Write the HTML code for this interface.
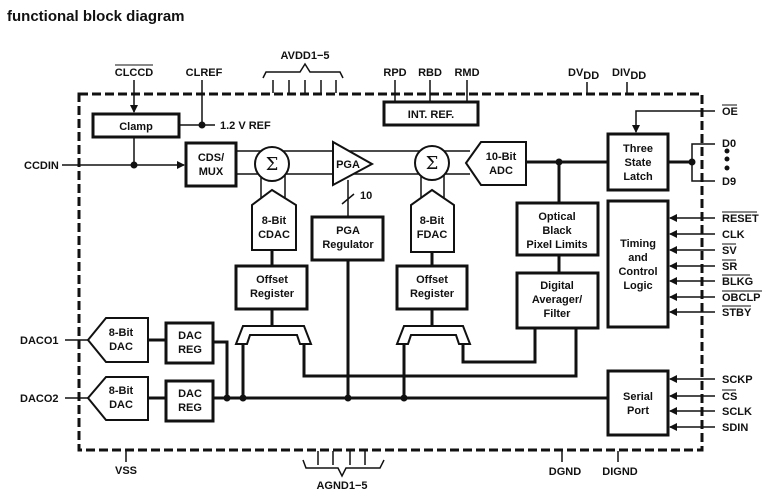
<!DOCTYPE html>
<html><head><meta charset="utf-8"><style>
html,body{margin:0;padding:0;background:#fff}
svg{display:block}
text{font-family:"Liberation Sans",Arial,sans-serif;font-weight:bold;font-size:11px;fill:#111}
</style></head><body>
<svg width="773" height="497" viewBox="0 0 773 497" xmlns="http://www.w3.org/2000/svg">
<defs>
<marker id="ar" markerWidth="8" markerHeight="8" refX="7" refY="4" orient="auto" markerUnits="userSpaceOnUse">
<path d="M0,0 L8,4 L0,8 z" fill="#111"/></marker>
</defs>
<text x="7" y="21" style="font-size:15px">functional block diagram</text>

<!-- border -->
<rect x="79" y="94" width="623" height="356" fill="none" stroke="#111" stroke-width="3" stroke-dasharray="9,4"/>

<g stroke="#111" stroke-width="1.5" fill="none">
<!-- top pins -->
<line x1="134" y1="80" x2="134" y2="112" marker-end="url(#ar)"/>
<line x1="202" y1="80" x2="202" y2="125"/>
<line x1="179" y1="125" x2="215" y2="125"/>
<path d="M263,78 L266,72 L300,72 L305,64 L310,72 L340,72 L343,78"/>
<line x1="273" y1="80" x2="273" y2="93"/><line x1="289" y1="80" x2="289" y2="93"/>
<line x1="305" y1="80" x2="305" y2="93"/><line x1="321" y1="80" x2="321" y2="93"/>
<line x1="336" y1="80" x2="336" y2="93"/>
<line x1="395" y1="80" x2="395" y2="102"/><line x1="430" y1="80" x2="430" y2="102"/><line x1="467" y1="80" x2="467" y2="102"/>
<line x1="587" y1="82" x2="587" y2="93"/><line x1="627" y1="82" x2="627" y2="93"/>
<!-- clamp / ccdin -->
<line x1="134" y1="137" x2="134" y2="165"/>
<line x1="62" y1="165" x2="184" y2="165" marker-end="url(#ar)"/>
<!-- analog lines -->
<line x1="236" y1="151" x2="470" y2="151"/>
<line x1="236" y1="174" x2="470" y2="174"/>
<line x1="261" y1="172" x2="261" y2="200"/><line x1="285" y1="172" x2="285" y2="200"/>
<line x1="421" y1="172" x2="421" y2="200"/><line x1="444" y1="172" x2="444" y2="200"/>
<line x1="348" y1="180" x2="348" y2="217"/>
<line x1="342" y1="204" x2="354" y2="194"/>
<!-- OE -->
<path d="M715,111 L636,111 L636,132" marker-end="url(#ar)"/>
<!-- D0-D9 -->
<path d="M715,144 L692,144 L692,181 L715,181"/>
<!-- timing inputs -->
<line x1="715" y1="218" x2="670" y2="218" marker-end="url(#ar)"/>
<line x1="715" y1="234" x2="670" y2="234" marker-end="url(#ar)"/>
<line x1="715" y1="250" x2="670" y2="250" marker-end="url(#ar)"/>
<line x1="715" y1="266" x2="670" y2="266" marker-end="url(#ar)"/>
<line x1="715" y1="281" x2="670" y2="281" marker-end="url(#ar)"/>
<line x1="715" y1="297" x2="670" y2="297" marker-end="url(#ar)"/>
<line x1="715" y1="312" x2="670" y2="312" marker-end="url(#ar)"/>
<line x1="715" y1="379" x2="670" y2="379" marker-end="url(#ar)"/>
<line x1="715" y1="396" x2="670" y2="396" marker-end="url(#ar)"/>
<line x1="715" y1="411" x2="670" y2="411" marker-end="url(#ar)"/>
<line x1="715" y1="427" x2="670" y2="427" marker-end="url(#ar)"/>
<!-- DACO -->
<line x1="65" y1="340" x2="88" y2="340"/><line x1="65" y1="398" x2="88" y2="398"/>
<!-- bottom pins -->
<line x1="126" y1="451" x2="126" y2="462"/>
<line x1="318" y1="451" x2="318" y2="465"/><line x1="333" y1="451" x2="333" y2="465"/>
<line x1="350" y1="451" x2="350" y2="465"/><line x1="365" y1="451" x2="365" y2="465"/>
<path d="M303,460 L306,468 L338,468 L342,476 L346,468 L380,468 L384,460"/>
<line x1="562" y1="451" x2="562" y2="462"/><line x1="618" y1="451" x2="618" y2="462"/>
</g>

<!-- thick wires -->
<g stroke="#111" stroke-width="3" fill="none">
<line x1="526" y1="162" x2="608" y2="162"/>
<line x1="559" y1="162" x2="559" y2="203"/>
<line x1="559" y1="255" x2="559" y2="273"/>
<line x1="668" y1="162" x2="692" y2="162"/>
<line x1="272" y1="250" x2="272" y2="266"/>
<line x1="432" y1="252" x2="432" y2="266"/>
<line x1="272" y1="309" x2="272" y2="326"/>
<line x1="432" y1="309" x2="432" y2="326"/>
<line x1="348" y1="260" x2="348" y2="398"/>
<line x1="148" y1="340" x2="166" y2="340"/>
<line x1="148" y1="398" x2="166" y2="398"/>
<line x1="213" y1="398" x2="608" y2="398"/>
<path d="M213,342 L227,342 L227,398"/>
<line x1="243" y1="344" x2="243" y2="398"/>
<line x1="404" y1="344" x2="404" y2="398"/>
<path d="M304,344 L304,376 L576,376 L576,328"/>
<path d="M463,344 L463,362 L535,362 L535,328"/>
</g>
<g fill="#111">
<circle cx="202" cy="125" r="3.5"/><circle cx="134" cy="165" r="3.5"/>
<circle cx="559" cy="162" r="3.5"/><circle cx="692" cy="162" r="3.5"/>
<circle cx="727" cy="151" r="2.5"/><circle cx="727" cy="159" r="2.5"/><circle cx="727" cy="168" r="2.5"/>
<circle cx="227" cy="398" r="3.5"/><circle cx="243" cy="398" r="3.5"/>
<circle cx="348" cy="398" r="3.5"/><circle cx="404" cy="398" r="3.5"/>
</g>

<!-- boxes -->
<g stroke="#111" stroke-width="3" fill="#fff">
<rect x="93" y="114" width="86" height="23"/>
<rect x="186" y="143" width="50" height="43"/>
<rect x="384" y="102" width="94" height="23"/>
<rect x="608" y="134" width="60" height="56"/>
<rect x="608" y="201" width="60" height="126"/>
<rect x="517" y="203" width="81" height="52"/>
<rect x="517" y="273" width="81" height="55"/>
<rect x="236" y="266" width="71" height="43"/>
<rect x="397" y="266" width="70" height="43"/>
<rect x="312" y="217" width="71" height="43"/>
<rect x="166" y="323" width="47" height="40"/>
<rect x="166" y="381" width="47" height="40"/>
<rect x="608" y="371" width="60" height="64"/>
</g>
<g stroke="#111" stroke-width="2" fill="#fff">
<polygon points="333,142 333,185 372,164"/>
<circle cx="272" cy="164" r="17"/>
<circle cx="432" cy="163" r="17"/>
<polygon points="466,163 481,142 526,142 526,185 481,185"/>
<polygon points="272,190 296,205 296,250 252,250 252,205"/>
<polygon points="432,190 454,205 454,252 411,252 411,205"/>
<polygon points="88,340 106,318 148,318 148,362 106,362"/>
<polygon points="88,398 106,377 148,377 148,420 106,420"/>
<polygon points="243,326 304,326 311,344 300,344 297,335 250,335 247,344 236,344"/>
<polygon points="404,326 463,326 470,344 459,344 456,335 411,335 408,344 397,344"/>
</g>

<g text-anchor="middle">
<text x="136" y="130">Clamp</text>
<text x="211" y="161">CDS/</text><text x="211" y="175">MUX</text>
<text x="272" y="170" style="font-family:'DejaVu Serif',serif;font-weight:normal;font-size:18px">Σ</text>
<text x="432" y="169" style="font-family:'DejaVu Serif',serif;font-weight:normal;font-size:18px">Σ</text>
<text x="348" y="168">PGA</text>
<text x="501" y="160">10-Bit</text><text x="501" y="174">ADC</text>
<text x="431" y="118">INT. REF.</text>
<text x="638" y="152">Three</text><text x="638" y="166">State</text><text x="638" y="180">Latch</text>
<text x="638" y="247">Timing</text><text x="638" y="261">and</text><text x="638" y="275">Control</text><text x="638" y="289">Logic</text>
<text x="557" y="220">Optical</text><text x="557" y="234">Black</text><text x="557" y="248">Pixel Limits</text>
<text x="557" y="289">Digital</text><text x="557" y="303">Averager/</text><text x="557" y="317">Filter</text>
<text x="274" y="224">8-Bit</text><text x="274" y="238">CDAC</text>
<text x="432" y="224">8-Bit</text><text x="432" y="238">FDAC</text>
<text x="348" y="234">PGA</text><text x="348" y="248">Regulator</text>
<text x="272" y="283">Offset</text><text x="272" y="297">Register</text>
<text x="432" y="283">Offset</text><text x="432" y="297">Register</text>
<text x="121" y="336">8-Bit</text><text x="121" y="350">DAC</text>
<text x="121" y="394">8-Bit</text><text x="121" y="408">DAC</text>
<text x="190" y="339">DAC</text><text x="190" y="353">REG</text>
<text x="190" y="397">DAC</text><text x="190" y="411">REG</text>
<text x="638" y="400">Serial</text><text x="638" y="414">Port</text>
<text x="134" y="76">CLCCD</text>
<text x="204" y="76">CLREF</text>
<text x="305" y="59">AVDD1−5</text>
<text x="395" y="76">RPD</text><text x="430" y="76">RBD</text><text x="467" y="76">RMD</text>
<text x="126" y="474">VSS</text>
<text x="342" y="489">AGND1−5</text>
<text x="565" y="475">DGND</text>
<text x="620" y="475">DIGND</text>
</g>
<line x1="115" y1="65" x2="153" y2="65" stroke="#111" stroke-width="1"/>
<text x="220" y="129">1.2 V REF</text>
<text x="360" y="199">10</text>
<text x="24" y="169">CCDIN</text>
<text x="20" y="344">DACO1</text>
<text x="20" y="402">DACO2</text>
<text x="568" y="76">DV<tspan dy="3">DD</tspan></text>
<text x="612" y="76">DIV<tspan dy="3">DD</tspan></text>
<text x="722" y="115">OE</text>
<text x="722" y="147">D0</text>
<text x="722" y="185">D9</text>
<text x="722" y="222">RESET</text>
<text x="722" y="238">CLK</text>
<text x="722" y="254">SV</text>
<text x="722" y="270">SR</text>
<text x="722" y="285">BLKG</text>
<text x="722" y="301">OBCLP</text>
<text x="722" y="316">STBY</text>
<text x="722" y="383">SCKP</text>
<text x="722" y="400">CS</text>
<text x="722" y="415">SCLK</text>
<text x="722" y="431">SDIN</text>
<g stroke="#111" stroke-width="1">
<line x1="722" y1="105" x2="737" y2="105"/>
<line x1="722" y1="212" x2="757" y2="212"/>
<line x1="722" y1="244" x2="736" y2="244"/>
<line x1="722" y1="260" x2="736" y2="260"/>
<line x1="722" y1="275" x2="750" y2="275"/>
<line x1="722" y1="291" x2="762" y2="291"/>
<line x1="722" y1="306" x2="751" y2="306"/>
<line x1="722" y1="390" x2="736" y2="390"/>
</g>
</svg>
</body></html>
